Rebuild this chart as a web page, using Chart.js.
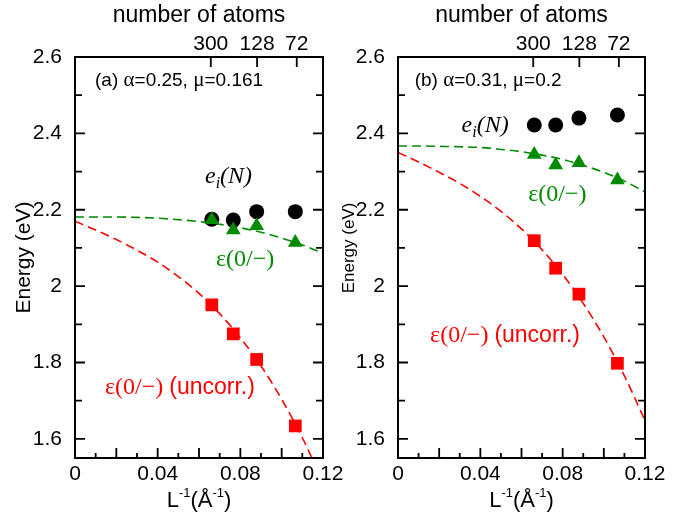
<!DOCTYPE html>
<html>
<head>
<meta charset="utf-8">
<title>Defect levels vs inverse supercell size</title>
<script src="https://cdn.jsdelivr.net/npm/chart.js@4.4.1/dist/chart.umd.min.js"></script>
<style>
  html, body { margin: 0; background: #fff; }
  #wrap { position: relative; width: 684px; height: 515px; overflow: hidden; }
  canvas { position: absolute; top: 0; }
  #panelA { left: 0; }
  #panelB { left: 325px; }
</style>
</head>
<body>
<div id="wrap">
  <canvas id="panelA" width="345" height="515"></canvas>
  <canvas id="panelB" width="359" height="515"></canvas>
</div>
<script>
// ----------------------------
// DATA
// ----------------------------
// inverse supercell length (1/Å) for the four supercells
const invL = [0.0662, 0.0766, 0.0879, 0.1066];

// panel (a): alpha = 0.25, mu = 0.161
const eiA = [2.175, 2.173, 2.195, 2.195];
const epsA = [2.174, 2.147, 2.158, 2.114];
const uncorrA = [1.951, 1.875, 1.808, 1.634];

// panel (b): alpha = 0.31, mu = 0.2
const eiB = [2.422, 2.422, 2.440, 2.448];
const epsB = [2.345, 2.317, 2.323, 2.278];
const uncorrB = [2.119, 2.047, 1.979, 1.798];

// extrapolation curves, sampled along 1/L
const fitX = [0, 0.01, 0.02, 0.03, 0.04, 0.05, 0.06, 0.07, 0.08, 0.09, 0.10, 0.11, 0.12];
const epsFitA = [2.181, 2.181, 2.181, 2.180, 2.178, 2.174, 2.169, 2.162, 2.153, 2.141, 2.126, 2.108, 2.086];
const uncorrFitA = [2.170, 2.147, 2.122, 2.094, 2.063, 2.025, 1.981, 1.928, 1.865, 1.791, 1.704, 1.603, 1.487];
const epsFitB = [2.367, 2.367, 2.366, 2.365, 2.363, 2.358, 2.352, 2.343, 2.332, 2.316, 2.298, 2.275, 2.247];
const uncorrFitB = [2.350, 2.325, 2.298, 2.269, 2.235, 2.196, 2.150, 2.095, 2.031, 1.955, 1.867, 1.765, 1.648];

// top axis: number of atoms in the supercell
const atomCounts = ['300', '128', '72'];
const atomInvL = [0.0657, 0.0881, 0.1073];

// labelled ticks (the rest are drawn as unlabelled marks)
const xLabelTicks = [0, 0.04, 0.08, 0.12];
const yLabelTicks = [1.6, 1.8, 2, 2.2, 2.4, 2.6];

// ----------------------------
// STYLE HELPERS
// ----------------------------
const GREEN = 'rgb(0,139,0)';
const RED = 'rgb(255,0,0)';
const SANS = '"Liberation Sans", Arial, Helvetica, sans-serif';
const SERIF = '"Liberation Serif", "Times New Roman", serif';

const pts = (xs, ys) => xs.map((x, i) => ({ x, y: ys[i] }));
const near = (a, b) => Math.abs(a - b) < 1e-6;
const onStep = (v, step) => near(v / step, Math.round(v / step));
const fmt = v => String(Number(v.toFixed(3)));

const sans = (px, t, color = '#000', dy = 0) => ({ t, font: `${px}px ${SANS}`, color, dy });
const serif = (px, t, color = '#000', dy = 0) => ({ t, font: `${px}px ${SERIF}`, color, dy });
const ital = (px, t, color = '#000', dy = 0) => ({ t, font: `italic ${px}px ${SERIF}`, color, dy });

// draw a run of text pieces with their own fonts / offsets
function drawParts(ctx, parts, x, y, align) {
  let total = 0;
  parts.forEach(p => { ctx.font = p.font; total += ctx.measureText(p.t).width; });
  let cx = align === 'center' ? x - total / 2 : x;
  parts.forEach(p => {
    ctx.font = p.font;
    ctx.fillStyle = p.color;
    ctx.fillText(p.t, cx, y + p.dy);
    cx += ctx.measureText(p.t).width;
  });
}

const eiParts = [ital(24, 'e'), ital(16, 'i', '#000', 5), ital(24, '(N)')];
const epsParts = [serif(24, 'ε(0/−)', GREEN)];
const uncorrParts = [serif(24, 'ε(0/−) ', RED), sans(23, '(uncorr.)', RED)];
const xTitleParts = [sans(22, 'L'), sans(13, '-1', '#000', -10), sans(22, '(Å'), sans(13, '-1', '#000', -10), sans(22, ')')];

// ----------------------------
// PLUGINS
// ----------------------------
// closed frame with inward ticks on all sides
const frameTicks = {
  id: 'frameTicks',
  afterDatasetsDraw(chart) {
    const { ctx, chartArea: a, scales } = chart;
    ctx.save();
    ctx.strokeStyle = '#000';
    ctx.lineWidth = 1.8;
    ctx.beginPath();
    scales.x.ticks.forEach(t => {
      const px = scales.x.getPixelForValue(t.value);
      const len = onStep(t.value, 0.02) ? 10 : 5;
      ctx.moveTo(px, a.bottom);
      ctx.lineTo(px, a.bottom - len);
    });
    scales.xTop.ticks.forEach(t => {
      const px = scales.xTop.getPixelForValue(t.value);
      ctx.moveTo(px, a.top);
      ctx.lineTo(px, a.top + 10);
    });
    scales.y.ticks.forEach(t => {
      const py = scales.y.getPixelForValue(t.value);
      const len = onStep(t.value, 0.2) ? 10 : 7;
      ctx.moveTo(a.left, py);
      ctx.lineTo(a.left + len, py);
      ctx.moveTo(a.right, py);
      ctx.lineTo(a.right - len, py);
    });
    ctx.stroke();
    ctx.lineWidth = 2;
    ctx.strokeRect(a.left, a.top, a.right - a.left, a.bottom - a.top);
    ctx.restore();
  }
};

// in-plot labels and the axis titles that need sub/superscripts
function notesPlugin(p) {
  return {
    id: 'notes',
    afterDraw(chart) {
      const { ctx, chartArea: a, scales } = chart;
      ctx.save();
      ctx.textBaseline = 'alphabetic';
      p.labels.forEach(l => {
        drawParts(ctx, l.parts, scales.x.getPixelForValue(l.x), scales.y.getPixelForValue(l.y), 'left');
      });
      drawParts(ctx, xTitleParts, (a.left + a.right) / 2, a.bottom + 49, 'center');
      if (p.sideTitle) {
        ctx.translate(a.left - 49, scales.y.getPixelForValue(p.sideTitle.y));
        ctx.rotate(-Math.PI / 2);
        ctx.textAlign = 'center';
        ctx.textBaseline = 'middle';
        ctx.fillStyle = '#000';
        ctx.font = `${p.sideTitle.size}px ${SANS}`;
        ctx.fillText(p.sideTitle.text, 0, 0);
      }
      ctx.restore();
    }
  };
}

// pin a scale box to a fixed size so the plot frames line up
function fixBox(scale, dim, size) {
  scale[dim] = size;
  scale.paddingLeft = scale.paddingRight = scale.paddingTop = scale.paddingBottom = 0;
}

const tickFont = { family: SANS, size: 21 };

// ----------------------------
// BUILD ONE PANEL
// ----------------------------
function buildPanel(canvasId, p) {
  const ctx = document.getElementById(canvasId).getContext('2d');
  const markers = (ys, style, radius, color, order) => ({
    data: pts(invL, ys),
    pointStyle: style,
    pointRadius: radius,
    pointBackgroundColor: color,
    pointBorderColor: color,
    pointBorderWidth: 0,
    showLine: false,
    order
  });
  const curve = (ys, color, order) => ({
    data: pts(fitX, ys),
    showLine: true,
    pointRadius: 0,
    borderColor: color,
    borderWidth: 1.6,
    borderDash: [9, 5],
    cubicInterpolationMode: 'monotone',
    order
  });

  return new Chart(ctx, {
    type: 'scatter',
    data: {
      datasets: [
        markers(p.eps, 'triangle', 8.5, GREEN, 0),
        markers(p.ei, 'circle', 7.5, '#000', 1),
        markers(p.uncorr, 'rect', 9, RED, 2),
        curve(p.epsFit, GREEN, 3),
        curve(p.uncorrFit, RED, 4)
      ]
    },
    options: {
      responsive: false,
      devicePixelRatio: 1,
      animation: false,
      events: [],
      layout: { padding: { left: 0, top: 0, bottom: 0, right: p.padRight } },
      plugins: { legend: { display: false }, tooltip: { enabled: false } },
      scales: {
        x: {
          type: 'linear',
          position: 'bottom',
          min: 0,
          max: 0.12,
          grid: { display: false },
          border: { display: false },
          ticks: {
            stepSize: 0.01,
            includeBounds: false,
            autoSkip: false,
            maxRotation: 0,
            padding: -4,
            color: '#000',
            font: tickFont,
            callback: v => xLabelTicks.some(t => near(t, v)) ? fmt(v) : ''
          },
          afterFit: s => fixBox(s, 'height', 57)
        },
        xTop: {
          type: 'linear',
          position: 'top',
          min: 0,
          max: 0.12,
          grid: { display: false },
          border: { display: false },
          afterBuildTicks: s => { s.ticks = atomInvL.map(v => ({ value: v })); },
          ticks: {
            autoSkip: false,
            maxRotation: 0,
            padding: -8,
            color: '#000',
            font: tickFont,
            callback: (v, i) => atomCounts[i]
          },
          title: {
            display: true,
            text: 'number of atoms',
            color: '#000',
            font: { family: SANS, size: 23 },
            padding: { top: 2, bottom: 0 }
          },
          afterFit: s => fixBox(s, 'height', 57)
        },
        y: {
          type: 'linear',
          min: 1.55,
          max: 2.6,
          grid: { display: false },
          border: { display: false },
          ticks: {
            stepSize: 0.1,
            includeBounds: false,
            autoSkip: false,
            padding: 5,
            color: '#000',
            font: tickFont,
            callback: v => yLabelTicks.some(t => near(t, v)) ? fmt(v) : ''
          },
          title: {
            display: p.yTitle,
            text: 'Energy (eV)',
            color: '#000',
            font: { family: SANS, size: 21 },
            padding: { top: 12, bottom: 0 }
          },
          afterFit: s => fixBox(s, 'width', p.axisWidth)
        }
      }
    },
    plugins: [frameTicks, notesPlugin(p)]
  });
}

// ----------------------------
// INITIALIZATION
// ----------------------------
buildPanel('panelA', {
  ei: eiA, eps: epsA, uncorr: uncorrA,
  epsFit: epsFitA, uncorrFit: uncorrFitA,
  axisWidth: 75, padRight: 22, yTitle: true,
  labels: [
    { x: 0.0097, y: 2.524, parts: [sans(19, '(a) '), serif(21, 'α'), sans(19, '=0.25, '), serif(21, 'μ'), sans(19, '=0.161')] },
    { x: 0.0629, y: 2.270, parts: eiParts },
    { x: 0.0682, y: 2.053, parts: epsParts },
    { x: 0.0145, y: 1.718, parts: uncorrParts }
  ]
});

buildPanel('panelB', {
  ei: eiB, eps: epsB, uncorr: uncorrB,
  epsFit: epsFitB, uncorrFit: uncorrFitB,
  axisWidth: 73, padRight: 39, yTitle: false,
  sideTitle: { text: 'Energy (eV)', size: 17, y: 2.1 },
  labels: [
    { x: 0.0081, y: 2.524, parts: [sans(19, '(b) '), serif(21, 'α'), sans(19, '=0.31, '), serif(21, 'μ'), sans(19, '=0.2')] },
    { x: 0.0309, y: 2.404, parts: eiParts },
    { x: 0.0633, y: 2.223, parts: epsParts },
    { x: 0.0156, y: 1.854, parts: uncorrParts }
  ]
});
</script>
</body>
</html>
